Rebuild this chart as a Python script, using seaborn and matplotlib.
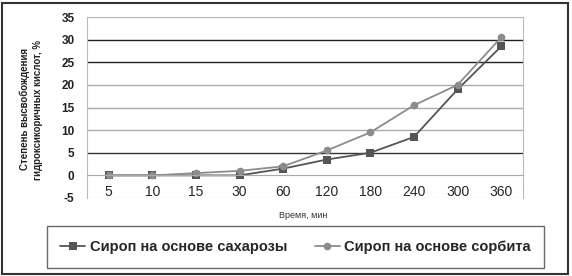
import numpy as np
import pandas as pd
import matplotlib
matplotlib.use("Agg")
import matplotlib.pyplot as plt
import seaborn as sns
from matplotlib.patches import Rectangle

times = ["5", "10", "15", "30", "60", "120", "180", "240", "300", "360"]
sucrose = [0, 0, 0, 0, 1.5, 3.5, 5, 8.5, 19, 28.5]
sorbitol = [0, 0, 0.5, 1, 2, 5.5, 9.5, 15.5, 20, 30.5]
series_names = ["Сироп на основе сахарозы", "Сироп на основе сорбита"]
yticks = [-5, 0, 5, 10, 15, 20, 25, 30, 35]

sns.set_style("white")
plt.rcParams['font.family'] = ['Liberation Sans', 'DejaVu Sans']

df = pd.DataFrame({
    "pos": list(range(len(times))) * 2,
    "value": sucrose + sorbitol,
    "series": [series_names[0]] * len(times) + [series_names[1]] * len(times),
})

fig = plt.figure(figsize=(5.72, 2.76), dpi=100)
W, H = 572, 276
ax = fig.add_axes([87 / W, 1 - 198 / H, (523 - 87) / W, (198 - 17) / H])

palette = {series_names[0]: "#555555", series_names[1]: "#8c8c8c"}
markers = {series_names[0]: "s", series_names[1]: "o"}
sns.lineplot(data=df, x="pos", y="value", hue="series", style="series",
             palette=palette, markers=markers, dashes=False, markersize=5.5,
             markeredgewidth=0, linewidth=1.3, ax=ax, legend=False)

ax.set_xlim(-0.5, len(times) - 0.5)
ax.set_ylim(-5, 35)
ax.set_yticks(yticks)
ax.set_yticklabels([str(v) for v in yticks], fontsize=8.5, fontweight="bold", color="#222222")
ax.set_xticks(range(len(times)))
ax.set_xticklabels(times, fontsize=8.5, fontweight="bold", color="#222222")
ax.set_xticks(np.arange(0.5, len(times) - 1, 1.0), minor=True)
ax.spines['bottom'].set_position(('data', 0))
ax.spines['bottom'].set_color("#aaaaaa")
for s in ["left", "right", "top"]:
    ax.spines[s].set_color("#bbbbbb")
    ax.spines[s].set_linewidth(0.8)
ax.tick_params(axis="x", which="major", length=0, pad=7)
ax.tick_params(axis="x", which="minor", length=3, direction="out", color="#777777", width=0.8)
ax.tick_params(axis="y", length=0, pad=9)
ax.set_xlabel("")
ax.set_ylabel("")

grid_colors = {35: "#bbbbbb", 30: "#222222", 25: "#222222", 20: "#aaaaaa",
               15: "#aaaaaa", 10: "#aaaaaa", 5: "#333333"}
for yv, c in grid_colors.items():
    ax.axhline(yv, color=c, linewidth=1.0, zorder=0)
ax.axhline(-5, color="#bbbbbb", linewidth=0.8, zorder=0)

fig.text(25 / W, 1 - 109 / H, "Степень высвобождения", rotation=90, fontsize=7,
         fontweight="bold", ha="center", va="center", color="#222222")
fig.text(38 / W, 1 - 110 / H, "гидроксикоричных кислот, %", rotation=90, fontsize=7,
         fontweight="bold", ha="center", va="center", color="#222222")
fig.text(303 / W, 1 - 216 / H, "Время, мин", fontsize=6.5, ha="center", va="center", color="#333333")

# legend
handles = [
    plt.Line2D([], [], color="#555555", marker="s", markersize=5.5, markeredgewidth=0, linewidth=1.3),
    plt.Line2D([], [], color="#8c8c8c", marker="o", markersize=5.5, markeredgewidth=0, linewidth=1.3),
]
leg = fig.legend(handles, series_names, loc="center", bbox_to_anchor=(295.5 / W, 1 - 247 / H),
                 ncol=2, frameon=True, fancybox=False, prop={"size": 10.5, "weight": "bold"},
                 handlelength=1.7, handletextpad=0.3, columnspacing=1.9, borderpad=0.95)
leg.get_frame().set_edgecolor("#444444")
leg.get_frame().set_linewidth(1.0)

fig.patches.append(Rectangle((2 / W, 2 / H), 566 / W, 271 / H, transform=fig.transFigure,
                             fill=False, edgecolor="#333333", linewidth=1.5))

fig.savefig("out.png", dpi=100)
